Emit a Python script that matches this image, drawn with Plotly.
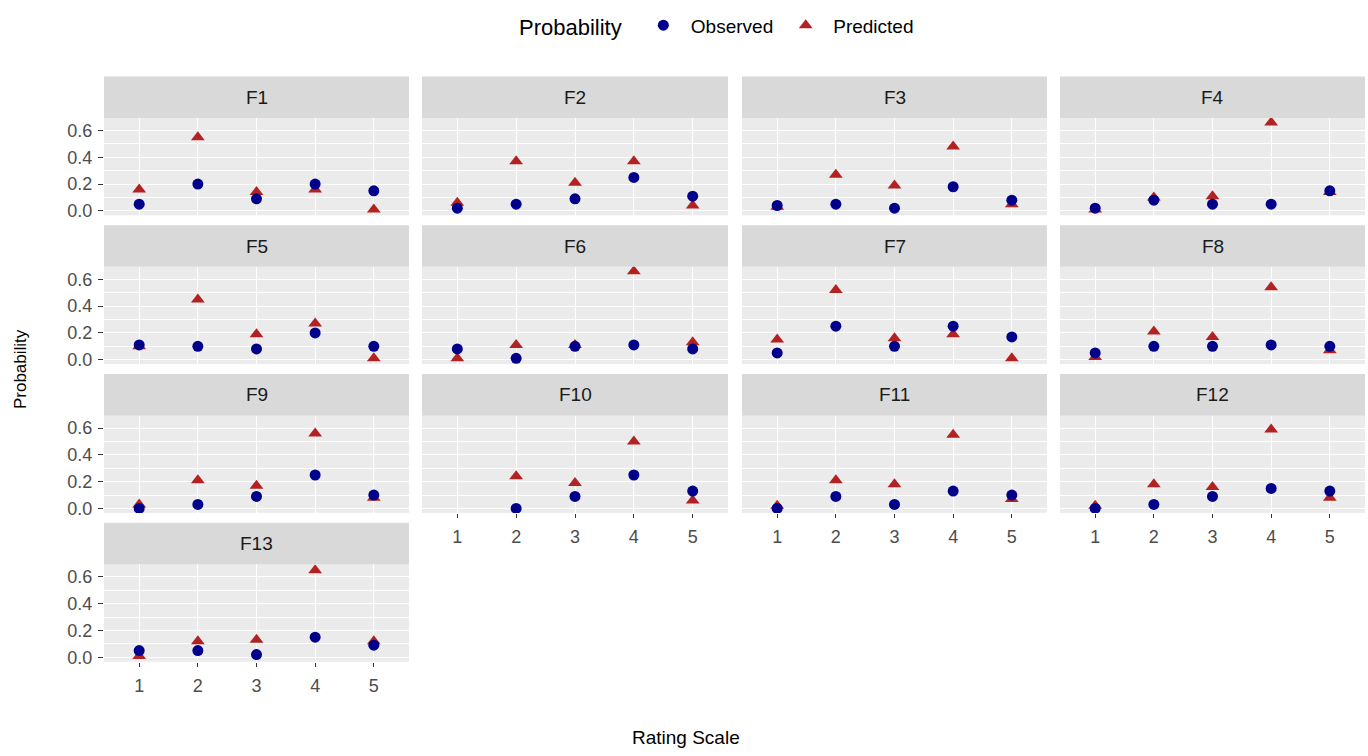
import plotly.graph_objects as go

W, H = 1368, 756

rating = [1, 2, 3, 4, 5]
panels = ["F1", "F2", "F3", "F4", "F5", "F6", "F7", "F8", "F9", "F10", "F11", "F12", "F13"]

observed = [
    [0.05, 0.20, 0.09, 0.20, 0.15],   # F1
    [0.02, 0.05, 0.09, 0.25, 0.11],   # F2
    [0.04, 0.05, 0.02, 0.18, 0.08],   # F3
    [0.02, 0.08, 0.05, 0.05, 0.15],   # F4
    [0.11, 0.10, 0.08, 0.20, 0.10],   # F5
    [0.08, 0.01, 0.10, 0.11, 0.08],   # F6
    [0.05, 0.25, 0.10, 0.25, 0.17],   # F7
    [0.05, 0.10, 0.10, 0.11, 0.10],   # F8
    [0.00, 0.03, 0.09, 0.25, 0.10],   # F9
    [None, 0.00, 0.09, 0.25, 0.13],   # F10
    [0.00, 0.09, 0.03, 0.13, 0.10],   # F11
    [0.00, 0.03, 0.09, 0.15, 0.13],   # F12
    [0.05, 0.05, 0.02, 0.15, 0.09],   # F13
]
predicted = [
    [0.16, 0.55, 0.14, 0.16, 0.01],   # F1
    [0.06, 0.37, 0.21, 0.37, 0.04],   # F2
    [0.03, 0.27, 0.19, 0.48, 0.05],   # F3
    [0.01, 0.10, 0.11, 0.66, 0.14],   # F4
    [0.10, 0.45, 0.19, 0.27, 0.01],   # F5
    [0.01, 0.11, 0.11, 0.66, 0.13],   # F6
    [0.15, 0.52, 0.16, 0.19, 0.01],   # F7
    [0.02, 0.21, 0.17, 0.54, 0.07],   # F8
    [0.03, 0.21, 0.17, 0.56, 0.08],   # F9
    [None, 0.24, 0.19, 0.50, 0.06],   # F10
    [0.02, 0.21, 0.18, 0.55, 0.07],   # F11
    [0.02, 0.18, 0.16, 0.59, 0.08],   # F12
    [0.01, 0.12, 0.13, 0.65, 0.12],   # F13
]
y_ticks = [0.0, 0.2, 0.4, 0.6]
y_tick_labels = ["0.0", "0.2", "0.4", "0.6"]

OBS_COLOR = "#00008B"
PRED_COLOR = "#B22222"
FONT = "Arial, Liberation Sans, sans-serif"

# panel geometry in pixels
col_px = [(104, 409), (422, 728), (742, 1047), (1060, 1365)]
row_px = [(119, 217), (269, 367), (419, 517), (569, 667)]
STRIP_H = 42
bottom_panels = {"F10", "F11", "F12", "F13"}

fig = go.Figure()
layout = {}
shapes = []
annotations = []

for i, name in enumerate(panels):
    r, c = divmod(i, 4)
    sfx = "" if i == 0 else str(i + 1)
    xa, ya = "x" + sfx, "y" + sfx
    x0, x1 = col_px[c]
    t, b = row_px[r]
    fig.add_trace(go.Scatter(
        x=rating, y=predicted[i], mode="markers", name="Predicted",
        marker=dict(symbol="triangle-up", size=12, color=PRED_COLOR),
        legendgroup="pred", showlegend=(i == 0), legendrank=2,
        xaxis=xa, yaxis=ya))
    fig.add_trace(go.Scatter(
        x=rating, y=observed[i], mode="markers", name="Observed",
        marker=dict(symbol="circle", size=11, color=OBS_COLOR),
        legendgroup="obs", showlegend=(i == 0), legendrank=1,
        xaxis=xa, yaxis=ya))
    show_x = name in bottom_panels
    layout["xaxis" + sfx] = dict(
        domain=[x0 / W, x1 / W], anchor=ya, range=[0.4, 5.6],
        tickmode="array", tickvals=rating, ticktext=[str(v) for v in rating],
        showticklabels=show_x, ticks="outside" if show_x else "",
        ticklen=4, tickwidth=1, tickcolor="#333333", ticklabelstandoff=4,
        showgrid=True, gridcolor="white", gridwidth=1.2,
        zeroline=False, showline=False,
        tickfont=dict(family=FONT, size=18, color="#4D4D4D"),
    )
    show_y = c == 0
    layout["yaxis" + sfx] = dict(
        domain=[1 - b / H, 1 - t / H], anchor=xa, range=[-0.033, 0.693],
        tickmode="array", tickvals=y_ticks, ticktext=y_tick_labels,
        showticklabels=show_y, ticks="outside" if show_y else "",
        ticklen=5, tickwidth=1, tickcolor="#333333", ticklabelstandoff=2,
        showgrid=True, gridcolor="white", gridwidth=1.2,
        minor=dict(tickmode="array", tickvals=[0.1, 0.3, 0.5], showgrid=True,
                   gridcolor="white", gridwidth=0.6, ticks=""),
        zeroline=False, showline=False,
        tickfont=dict(family=FONT, size=18, color="#4D4D4D"),
    )
    shapes.append(dict(type="rect", xref="paper", yref="paper",
                       x0=x0 / W, x1=x1 / W, y0=1 - t / H, y1=1 - (t - STRIP_H) / H,
                       fillcolor="#D9D9D9", line=dict(width=0), layer="below"))
    annotations.append(dict(text=name, xref="paper", yref="paper",
                            x=(x0 + x1) / 2 / W, y=1 - (t - STRIP_H / 2) / H,
                            xanchor="center", yanchor="middle", showarrow=False,
                            font=dict(family=FONT, size=19, color="#1A1A1A")))

annotations.append(dict(text="Rating Scale", xref="paper", yref="paper",
                        x=686 / W, y=1 - 743 / H, xanchor="center", yanchor="middle",
                        showarrow=False, font=dict(family=FONT, size=19, color="black")))
annotations.append(dict(text="Probability", xref="paper", yref="paper",
                        x=20 / W, y=1 - 372 / H, xanchor="center", yanchor="middle",
                        textangle=-90, showarrow=False,
                        font=dict(family=FONT, size=17, color="black")))

layout.update(dict(
    width=W, height=H, margin=dict(l=0, r=0, t=0, b=0),
    paper_bgcolor="white", plot_bgcolor="#EBEBEB",
    shapes=shapes, annotations=annotations,
    legend=dict(orientation="h", x=718 / W, xanchor="center",
                y=1 - 26 / H, yanchor="middle", itemwidth=45,
                title=dict(text="Probability ", font=dict(family=FONT, size=22, color="black")),
                font=dict(family=FONT, size=19, color="black"),
                bgcolor="rgba(0,0,0,0)"),
    font=dict(family=FONT),
))
fig.update_layout(**layout)
fig.write_html("out.html")
